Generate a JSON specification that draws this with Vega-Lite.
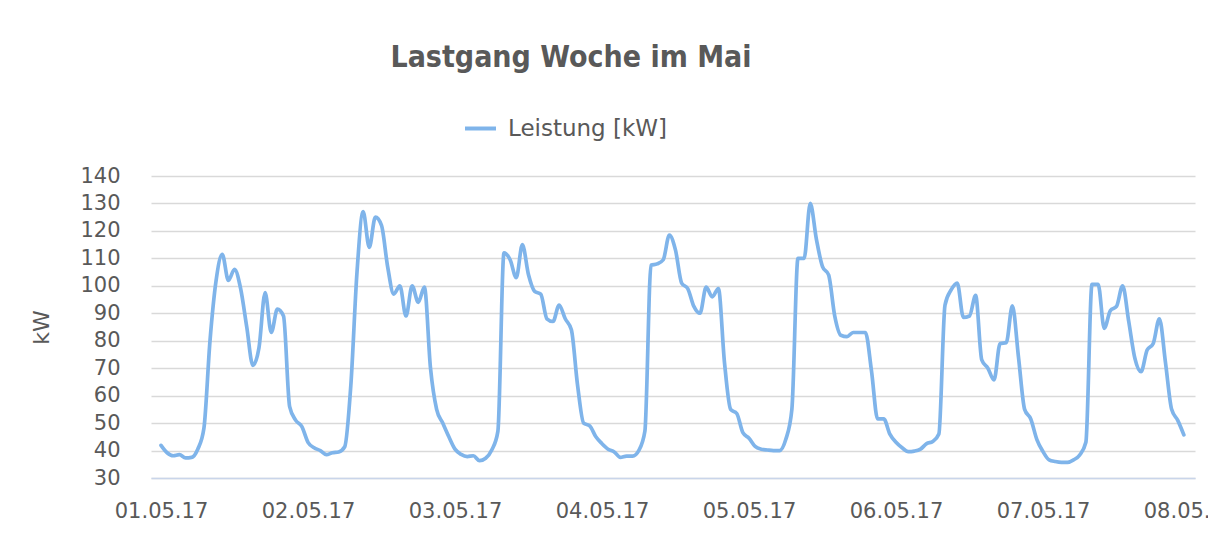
{
  "$schema": "https://vega.github.io/schema/vega-lite/v6.json",
  "autosize": "none",
  "width": 1044,
  "height": 302,
  "padding": {"left": 151, "top": 176, "right": 13, "bottom": 65},
  "background": "white",
  "title": {
    "text": "Lastgang Woche im Mai",
    "anchor": "middle",
    "frame": "group",
    "dx": -102,
    "offset": 38,
    "font": "Liberation Sans Narrow, DejaVu Sans Condensed, Roboto Condensed, sans-serif",
    "fontSize": 30,
    "fontWeight": "bold",
    "color": "#595959"
  },
  "config": {
    "view": {"stroke": null},
    "font": "DejaVu Sans"
  },
  "data": {
    "values": [
      {"t": "2017-05-01T00:00", "kW": 41.9},
      {"t": "2017-05-01T01:00", "kW": 39.2},
      {"t": "2017-05-01T02:00", "kW": 38.1},
      {"t": "2017-05-01T03:00", "kW": 38.5},
      {"t": "2017-05-01T04:00", "kW": 37.3},
      {"t": "2017-05-01T05:00", "kW": 37.5},
      {"t": "2017-05-01T06:00", "kW": 40.5},
      {"t": "2017-05-01T07:00", "kW": 48},
      {"t": "2017-05-01T08:00", "kW": 80},
      {"t": "2017-05-01T09:00", "kW": 102},
      {"t": "2017-05-01T10:00", "kW": 111.5},
      {"t": "2017-05-01T11:00", "kW": 102},
      {"t": "2017-05-01T12:00", "kW": 106},
      {"t": "2017-05-01T13:00", "kW": 99},
      {"t": "2017-05-01T14:00", "kW": 85},
      {"t": "2017-05-01T15:00", "kW": 71},
      {"t": "2017-05-01T16:00", "kW": 77.5},
      {"t": "2017-05-01T17:00", "kW": 97.5},
      {"t": "2017-05-01T18:00", "kW": 83},
      {"t": "2017-05-01T19:00", "kW": 91.5},
      {"t": "2017-05-01T20:00", "kW": 89},
      {"t": "2017-05-01T21:00", "kW": 56},
      {"t": "2017-05-01T22:00", "kW": 51},
      {"t": "2017-05-01T23:00", "kW": 48.7},
      {"t": "2017-05-02T00:00", "kW": 43},
      {"t": "2017-05-02T01:00", "kW": 41},
      {"t": "2017-05-02T02:00", "kW": 40},
      {"t": "2017-05-02T03:00", "kW": 38.5},
      {"t": "2017-05-02T04:00", "kW": 39.2},
      {"t": "2017-05-02T05:00", "kW": 39.5},
      {"t": "2017-05-02T06:00", "kW": 41.4},
      {"t": "2017-05-02T07:00", "kW": 64},
      {"t": "2017-05-02T08:00", "kW": 105},
      {"t": "2017-05-02T09:00", "kW": 127},
      {"t": "2017-05-02T10:00", "kW": 114},
      {"t": "2017-05-02T11:00", "kW": 125},
      {"t": "2017-05-02T12:00", "kW": 122},
      {"t": "2017-05-02T13:00", "kW": 107},
      {"t": "2017-05-02T14:00", "kW": 97},
      {"t": "2017-05-02T15:00", "kW": 100},
      {"t": "2017-05-02T16:00", "kW": 89},
      {"t": "2017-05-02T17:00", "kW": 100},
      {"t": "2017-05-02T18:00", "kW": 94},
      {"t": "2017-05-02T19:00", "kW": 99.5},
      {"t": "2017-05-02T20:00", "kW": 70},
      {"t": "2017-05-02T21:00", "kW": 55},
      {"t": "2017-05-02T22:00", "kW": 50},
      {"t": "2017-05-02T23:00", "kW": 45},
      {"t": "2017-05-03T00:00", "kW": 40.5},
      {"t": "2017-05-03T01:00", "kW": 38.6},
      {"t": "2017-05-03T02:00", "kW": 37.8},
      {"t": "2017-05-03T03:00", "kW": 38.1},
      {"t": "2017-05-03T04:00", "kW": 36.3},
      {"t": "2017-05-03T05:00", "kW": 37.2},
      {"t": "2017-05-03T06:00", "kW": 40.2},
      {"t": "2017-05-03T07:00", "kW": 47},
      {"t": "2017-05-03T08:00", "kW": 112},
      {"t": "2017-05-03T09:00", "kW": 109.5},
      {"t": "2017-05-03T10:00", "kW": 103},
      {"t": "2017-05-03T11:00", "kW": 115},
      {"t": "2017-05-03T12:00", "kW": 104},
      {"t": "2017-05-03T13:00", "kW": 98},
      {"t": "2017-05-03T14:00", "kW": 97},
      {"t": "2017-05-03T15:00", "kW": 88},
      {"t": "2017-05-03T16:00", "kW": 87},
      {"t": "2017-05-03T17:00", "kW": 93},
      {"t": "2017-05-03T18:00", "kW": 88},
      {"t": "2017-05-03T19:00", "kW": 84},
      {"t": "2017-05-03T20:00", "kW": 64},
      {"t": "2017-05-03T21:00", "kW": 50},
      {"t": "2017-05-03T22:00", "kW": 49},
      {"t": "2017-05-03T23:00", "kW": 45},
      {"t": "2017-05-04T00:00", "kW": 42.5},
      {"t": "2017-05-04T01:00", "kW": 40.5},
      {"t": "2017-05-04T02:00", "kW": 39.5},
      {"t": "2017-05-04T03:00", "kW": 37.5},
      {"t": "2017-05-04T04:00", "kW": 38},
      {"t": "2017-05-04T05:00", "kW": 38},
      {"t": "2017-05-04T06:00", "kW": 40},
      {"t": "2017-05-04T07:00", "kW": 47},
      {"t": "2017-05-04T08:00", "kW": 107.5},
      {"t": "2017-05-04T09:00", "kW": 108},
      {"t": "2017-05-04T10:00", "kW": 109.5},
      {"t": "2017-05-04T11:00", "kW": 118.5},
      {"t": "2017-05-04T12:00", "kW": 113},
      {"t": "2017-05-04T13:00", "kW": 101},
      {"t": "2017-05-04T14:00", "kW": 99},
      {"t": "2017-05-04T15:00", "kW": 92.5},
      {"t": "2017-05-04T16:00", "kW": 90},
      {"t": "2017-05-04T17:00", "kW": 99.5},
      {"t": "2017-05-04T18:00", "kW": 96},
      {"t": "2017-05-04T19:00", "kW": 99},
      {"t": "2017-05-04T20:00", "kW": 72},
      {"t": "2017-05-04T21:00", "kW": 55},
      {"t": "2017-05-04T22:00", "kW": 53.5},
      {"t": "2017-05-04T23:00", "kW": 46.5},
      {"t": "2017-05-05T00:00", "kW": 44.5},
      {"t": "2017-05-05T01:00", "kW": 41.5},
      {"t": "2017-05-05T02:00", "kW": 40.5},
      {"t": "2017-05-05T03:00", "kW": 40.2},
      {"t": "2017-05-05T04:00", "kW": 40},
      {"t": "2017-05-05T05:00", "kW": 40},
      {"t": "2017-05-05T06:00", "kW": 44},
      {"t": "2017-05-05T07:00", "kW": 55},
      {"t": "2017-05-05T08:00", "kW": 110},
      {"t": "2017-05-05T09:00", "kW": 110},
      {"t": "2017-05-05T10:00", "kW": 130},
      {"t": "2017-05-05T11:00", "kW": 117},
      {"t": "2017-05-05T12:00", "kW": 107},
      {"t": "2017-05-05T13:00", "kW": 104},
      {"t": "2017-05-05T14:00", "kW": 89},
      {"t": "2017-05-05T15:00", "kW": 82},
      {"t": "2017-05-05T16:00", "kW": 81.5},
      {"t": "2017-05-05T17:00", "kW": 83},
      {"t": "2017-05-05T18:00", "kW": 83},
      {"t": "2017-05-05T19:00", "kW": 83},
      {"t": "2017-05-05T20:00", "kW": 69},
      {"t": "2017-05-05T21:00", "kW": 51.5},
      {"t": "2017-05-05T22:00", "kW": 51.5},
      {"t": "2017-05-05T23:00", "kW": 46},
      {"t": "2017-05-06T00:00", "kW": 43},
      {"t": "2017-05-06T01:00", "kW": 41},
      {"t": "2017-05-06T02:00", "kW": 39.6},
      {"t": "2017-05-06T03:00", "kW": 39.8},
      {"t": "2017-05-06T04:00", "kW": 40.5},
      {"t": "2017-05-06T05:00", "kW": 42.5},
      {"t": "2017-05-06T06:00", "kW": 43.3},
      {"t": "2017-05-06T07:00", "kW": 46},
      {"t": "2017-05-06T08:00", "kW": 93},
      {"t": "2017-05-06T09:00", "kW": 98.5},
      {"t": "2017-05-06T10:00", "kW": 101},
      {"t": "2017-05-06T11:00", "kW": 88.5},
      {"t": "2017-05-06T12:00", "kW": 89},
      {"t": "2017-05-06T13:00", "kW": 96.5},
      {"t": "2017-05-06T14:00", "kW": 73},
      {"t": "2017-05-06T15:00", "kW": 70},
      {"t": "2017-05-06T16:00", "kW": 65.7},
      {"t": "2017-05-06T17:00", "kW": 79},
      {"t": "2017-05-06T18:00", "kW": 79.3},
      {"t": "2017-05-06T19:00", "kW": 92.7},
      {"t": "2017-05-06T20:00", "kW": 74},
      {"t": "2017-05-06T21:00", "kW": 55},
      {"t": "2017-05-06T22:00", "kW": 51.5},
      {"t": "2017-05-06T23:00", "kW": 44},
      {"t": "2017-05-07T00:00", "kW": 39.6},
      {"t": "2017-05-07T01:00", "kW": 36.6},
      {"t": "2017-05-07T02:00", "kW": 36},
      {"t": "2017-05-07T03:00", "kW": 35.7},
      {"t": "2017-05-07T04:00", "kW": 35.7},
      {"t": "2017-05-07T05:00", "kW": 36.6},
      {"t": "2017-05-07T06:00", "kW": 38.4},
      {"t": "2017-05-07T07:00", "kW": 43},
      {"t": "2017-05-07T08:00", "kW": 100.5},
      {"t": "2017-05-07T09:00", "kW": 100.5},
      {"t": "2017-05-07T10:00", "kW": 84.5},
      {"t": "2017-05-07T11:00", "kW": 91},
      {"t": "2017-05-07T12:00", "kW": 92.5},
      {"t": "2017-05-07T13:00", "kW": 100},
      {"t": "2017-05-07T14:00", "kW": 87},
      {"t": "2017-05-07T15:00", "kW": 73.6},
      {"t": "2017-05-07T16:00", "kW": 68.7},
      {"t": "2017-05-07T17:00", "kW": 76.6},
      {"t": "2017-05-07T18:00", "kW": 79},
      {"t": "2017-05-07T19:00", "kW": 88},
      {"t": "2017-05-07T20:00", "kW": 72},
      {"t": "2017-05-07T21:00", "kW": 55},
      {"t": "2017-05-07T22:00", "kW": 51},
      {"t": "2017-05-07T23:00", "kW": 45.7}
    ]
  },
  "mark": {"type": "line", "interpolate": "monotone", "strokeWidth": 3.7, "strokeCap": "round", "strokeJoin": "round"},
  "encoding": {
    "x": {
      "field": "t",
      "type": "temporal",
      "scale": {
        "domain": [
          {"year": 2017, "month": 4, "date": 30, "hours": 22, "minutes": 22},
          {"year": 2017, "month": 5, "date": 8, "hours": 0, "minutes": 49}
        ]
      },
      "axis": {
        "title": null,
        "format": "%d.%m.%y",
        "tickCount": {"interval": "day", "step": 1},
        "grid": false,
        "ticks": false,
        "tickSize": 0,
        "domainColor": "#c9d5ea",
        "domainWidth": 1.5,
        "labelFlush": false,
        "labelOverlap": false,
        "labelFont": "DejaVu Sans",
        "labelFontSize": 21,
        "labelColor": "#595959",
        "labelPadding": 22
      }
    },
    "y": {
      "field": "kW",
      "type": "quantitative",
      "scale": {"domain": [30, 140], "nice": false, "zero": false},
      "axis": {
        "title": "kW",
        "values": [30, 40, 50, 60, 70, 80, 90, 100, 110, 120, 130, 140],
        "domain": false,
        "ticks": false,
        "tickSize": 0,
        "gridColor": "#d9d9d9",
        "gridWidth": 1.5,
        "labelFont": "DejaVu Sans",
        "labelFontSize": 21,
        "labelColor": "#595959",
        "labelPadding": 31,
        "titleFont": "DejaVu Sans",
        "titleFontSize": 22,
        "titleFontWeight": "normal",
        "titleColor": "#595959",
        "titlePadding": 26
      }
    },
    "color": {
      "datum": "Leistung [kW]",
      "type": "nominal",
      "scale": {"range": ["#7fb4ea"]},
      "legend": {
        "title": null,
        "orient": "none",
        "legendX": 312,
        "legendY": -65,
        "symbolType": "stroke",
        "symbolSize": 961,
        "symbolStrokeWidth": 4,
        "labelFont": "DejaVu Sans",
        "labelFontSize": 23,
        "labelColor": "#595959",
        "labelOffset": 10,
        "padding": 0
      }
    }
  }
}
